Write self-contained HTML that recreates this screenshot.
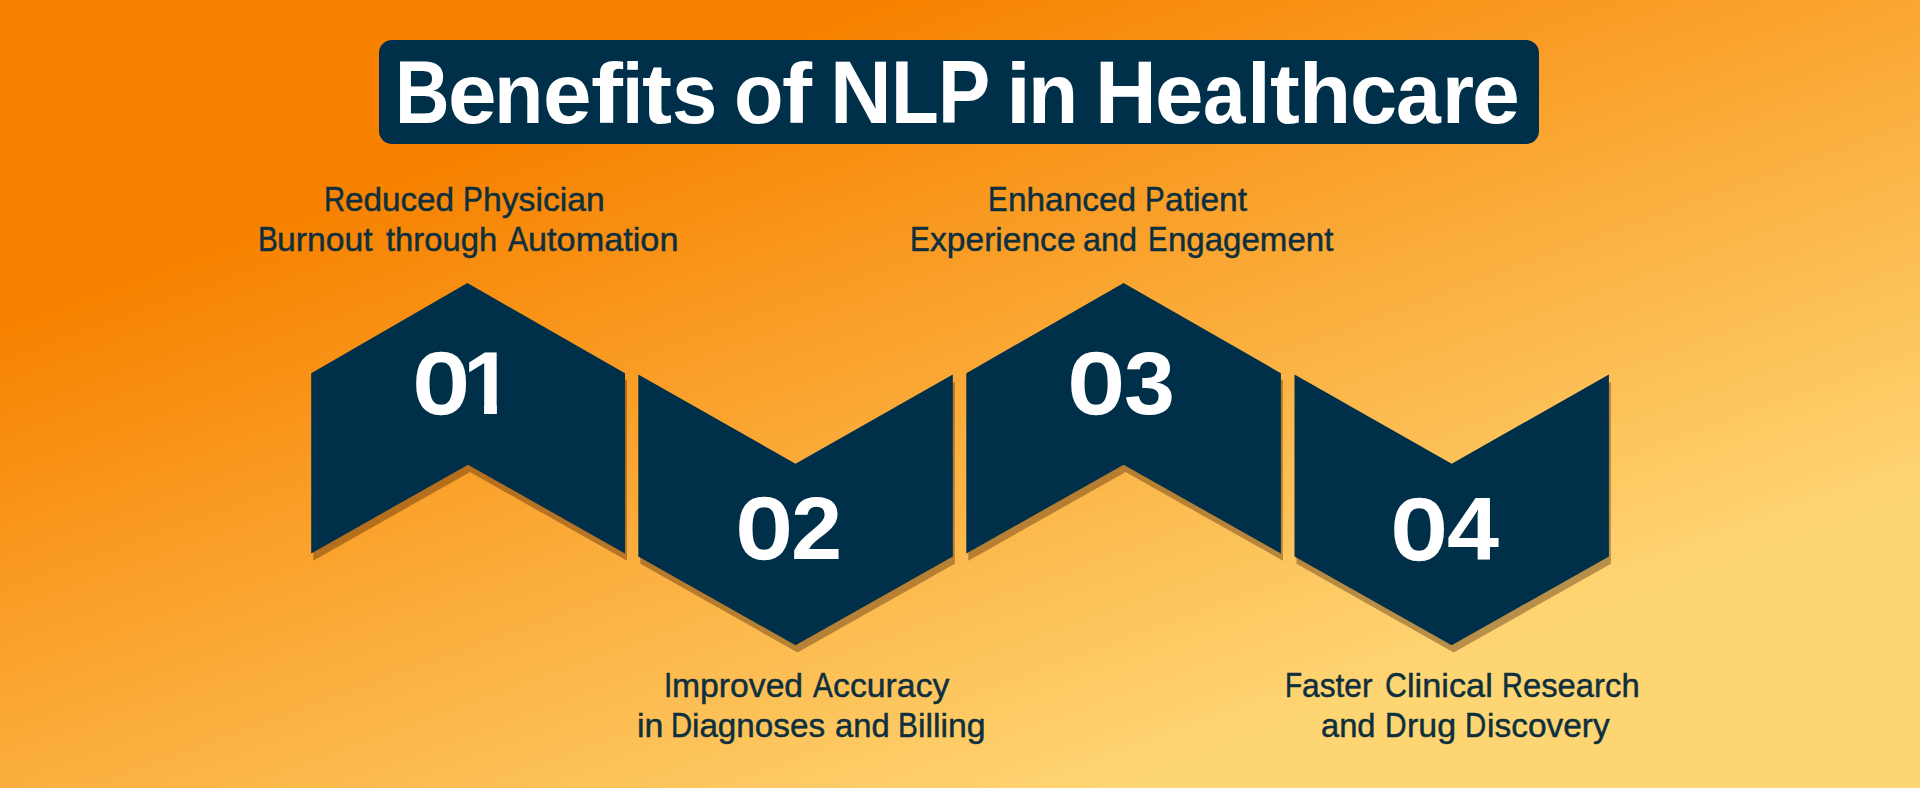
<!DOCTYPE html>
<html lang="en">
<head>
<meta charset="utf-8">
<title>Benefits of NLP in Healthcare</title>
<style>
  html, body { margin: 0; padding: 0; background: #f9a53a; }
  body { width: 1920px; height: 788px; overflow: hidden; }
  #page {
    position: relative; width: 1920px; height: 788px; overflow: hidden;
    font-family: "Liberation Sans", sans-serif;
    background: linear-gradient(160deg, #f78200 0%, #f78200 22%, #fed573 80%, #fed573 100%);
  }
  #shapes { position: absolute; left: 0; top: 0; width: 1920px; height: 788px; }
  .title-box {
    position: absolute; left: 379.2px; top: 40.2px; width: 1159.9px; height: 103.4px;
    background: #003049; border-radius: 13px;
  }
  .w { position: absolute; display: block; white-space: nowrap; line-height: 1; transform-origin: 0 0; }
  .title, .label, .num { margin: 0; padding: 0; font-size: 0; line-height: 0; }
  .tw { display: inline; }
  .t { font-weight: bold; font-size: 89.0px; color: #ffffff; }
  .l { font-size: 35.5px; color: #0e2f3d; -webkit-text-stroke: 0.5px #0e2f3d; }
  .n { font-weight: bold; font-size: 88.7px; color: #ffffff; }
  .z { font-weight: normal; font-size: 83.27px; -webkit-text-stroke: 4.34px #ffffff; }
</style>
</head>
<body>
<div id="page">
<svg id="shapes" viewBox="0 0 1920 788" width="1920" height="788">
  <g fill="rgba(50,15,0,0.34)" transform="translate(2,7.3)">
    <polygon points="311.2,373.2 467.4,283.1 625,373.2 625,553.4 468,464.8 311.2,553.4"/>
    <polygon points="638.3,374.4 795.5,463.7 952.8,374.4 952.8,556.5 795.5,645.2 638.3,556.5"/>
    <polygon points="966.3,373.2 1123.6,283.1 1280.9,373.2 1280.9,553.4 1123.6,464.8 966.3,553.4"/>
    <polygon points="1294.5,374.4 1451.7,463.7 1608.9,374.4 1608.9,556.5 1451.7,645.2 1294.5,556.5"/>
  </g>
  <g fill="#003049">
    <polygon points="311.2,373.2 467.4,283.1 625,373.2 625,553.4 468,464.8 311.2,553.4"/>
    <polygon points="638.3,374.4 795.5,463.7 952.8,374.4 952.8,556.5 795.5,645.2 638.3,556.5"/>
    <polygon points="966.3,373.2 1123.6,283.1 1280.9,373.2 1280.9,553.4 1123.6,464.8 966.3,553.4"/>
    <polygon points="1294.5,374.4 1451.7,463.7 1608.9,374.4 1608.9,556.5 1451.7,645.2 1294.5,556.5"/>
  </g>
</svg>

<div class="title-box"></div>
<h1 class="title"><span class="tw"><span class="w t" style="left:395.16px;top:48.00px;transform:scaleX(0.8482);">B</span><span class="w t" style="left:448.31px;top:48.00px;transform-origin:0 75px;transform:scale(0.9807,0.95);">e</span><span class="w t" style="left:494.20px;top:48.00px;transform-origin:0 75px;transform:scale(0.9091,0.95);">n</span><span class="w t" style="left:542.66px;top:48.00px;transform-origin:0 75px;transform:scale(0.9807,0.95);">e</span><span class="w t" style="left:591.42px;top:48.00px;transform-origin:0 75px;transform:scale(1.0776,0.95);">f</span><span class="w t" style="left:621.73px;top:48.00px;transform-origin:0 75px;transform:scale(0.8615,0.95);">i</span><span class="w t" style="left:642.49px;top:48.00px;transform-origin:0 75px;transform:scale(1.0143,0.95);">t</span><span class="w t" style="left:672.25px;top:48.00px;transform-origin:0 75px;transform:scale(0.9163,0.95);">s</span></span> <span class="tw"><span class="w t" style="left:733.52px;top:48.00px;transform-origin:0 75px;transform:scale(0.9115,0.95);">o</span><span class="w t" style="left:782.09px;top:48.00px;transform-origin:0 75px;transform:scale(1.0138,0.95);">f</span></span> <span class="tw"><span class="w t" style="left:830.19px;top:48.00px;transform:scaleX(0.9611);">N</span><span class="w t" style="left:891.21px;top:48.00px;transform:scaleX(0.8787);">L</span><span class="w t" style="left:937.85px;top:48.00px;transform:scaleX(0.8798);">P</span></span> <span class="tw"><span class="w t" style="left:1006.45px;top:48.00px;transform-origin:0 75px;transform:scale(1.0077,0.95);">i</span><span class="w t" style="left:1028.48px;top:48.00px;transform-origin:0 75px;transform:scale(0.9239,0.95);">n</span></span> <span class="tw"><span class="w t" style="left:1095.19px;top:48.00px;transform:scaleX(0.9611);">H</span><span class="w t" style="left:1155.16px;top:48.00px;transform-origin:0 75px;transform:scale(0.9807,0.95);">e</span><span class="w t" style="left:1203.29px;top:48.00px;transform-origin:0 75px;transform:scale(0.8571,0.95);">a</span><span class="w t" style="left:1247.33px;top:48.00px;transform-origin:0 75px;transform:scale(0.9615,0.95);">l</span><span class="w t" style="left:1269.59px;top:48.00px;transform-origin:0 75px;transform:scale(1.0054,0.95);">t</span><span class="w t" style="left:1299.24px;top:48.00px;transform-origin:0 75px;transform:scale(0.9593,0.95);">h</span><span class="w t" style="left:1349.64px;top:48.00px;transform-origin:0 75px;transform:scale(0.9523,0.95);">c</span><span class="w t" style="left:1396.29px;top:48.00px;transform-origin:0 75px;transform:scale(0.9061,0.95);">a</span><span class="w t" style="left:1442.27px;top:48.00px;transform-origin:0 75px;transform:scale(0.9259,0.95);">r</span><span class="w t" style="left:1472.10px;top:48.00px;transform-origin:0 75px;transform:scale(0.9659,0.95);">e</span></span></h1>

<p class="label"><span class="lw"><span class="w l" style="left:324.15px;top:182.00px;transform-origin:0 29px;transform:scale(0.8240,1);">R</span><span class="w l" style="left:345.28px;top:182.00px;transform-origin:0 29px;transform:scale(0.9364,0.945);">educed</span></span> <span class="lw"><span class="w l" style="left:463.03px;top:182.00px;transform-origin:0 29px;transform:scale(0.8360,1);">P</span><span class="w l" style="left:482.82px;top:182.00px;transform-origin:0 29px;transform:scale(0.9499,0.945);">hysician</span></span>
  <span class="lw"><span class="w l" style="left:257.53px;top:222.00px;transform-origin:0 29px;transform:scale(0.8354,1);">B</span><span class="w l" style="left:277.31px;top:222.00px;transform-origin:0 29px;transform:scale(0.9493,0.945);">urnout</span></span> <span class="lw"><span class="w l" style="left:385.70px;top:222.00px;transform-origin:0 29px;transform:scale(0.9228,0.945);">through</span></span> <span class="lw"><span class="w l" style="left:508.30px;top:222.00px;transform-origin:0 29px;transform:scale(0.8493,1);">A</span><span class="w l" style="left:528.41px;top:222.00px;transform-origin:0 29px;transform:scale(0.9652,0.945);">utomation</span></span></p>
<p class="label"><span class="lw"><span class="w l" style="left:988.45px;top:182.00px;transform-origin:0 29px;transform:scale(0.8270,1);">E</span><span class="w l" style="left:1008.03px;top:182.00px;transform-origin:0 29px;transform:scale(0.9398,0.945);">nhanced</span></span> <span class="lw"><span class="w l" style="left:1145.14px;top:182.00px;transform-origin:0 29px;transform:scale(0.8314,1);">P</span><span class="w l" style="left:1164.82px;top:182.00px;transform-origin:0 29px;transform:scale(0.9448,0.945);">atient</span></span>
  <span class="lw"><span class="w l" style="left:909.94px;top:222.00px;transform-origin:0 29px;transform:scale(0.8322,1);">E</span><span class="w l" style="left:929.64px;top:222.00px;transform-origin:0 29px;transform:scale(0.9457,0.945);">xperience</span></span> <span class="lw"><span class="w l" style="left:1083.09px;top:222.00px;transform-origin:0 29px;transform:scale(0.9135,0.945);">and</span></span> <span class="lw"><span class="w l" style="left:1148.36px;top:222.00px;transform-origin:0 29px;transform:scale(0.8190,1);">E</span><span class="w l" style="left:1167.75px;top:222.00px;transform-origin:0 29px;transform:scale(0.9306,0.945);">ngagement</span></span></p>
<p class="label"><span class="lw"><span class="w l" style="left:663.99px;top:668.00px;transform-origin:0 29px;transform:scale(0.8354,1);">I</span><span class="w l" style="left:672.23px;top:668.00px;transform-origin:0 29px;transform:scale(0.9493,0.945);">mproved</span></span> <span class="lw"><span class="w l" style="left:813.00px;top:668.00px;transform-origin:0 29px;transform:scale(0.8377,1);">A</span><span class="w l" style="left:832.83px;top:668.00px;transform-origin:0 29px;transform:scale(0.9519,0.945);">ccuracy</span></span>
  <span class="lw"><span class="w l" style="left:636.89px;top:708.00px;transform-origin:0 29px;transform:scale(0.9545,0.945);">in</span></span> <span class="lw"><span class="w l" style="left:671.35px;top:708.00px;transform-origin:0 29px;transform:scale(0.8238,1);">D</span><span class="w l" style="left:692.47px;top:708.00px;transform-origin:0 29px;transform:scale(0.9361,0.945);">iagnoses</span></span> <span class="lw"><span class="w l" style="left:835.18px;top:708.00px;transform-origin:0 29px;transform:scale(0.9223,0.945);">and</span></span> <span class="lw"><span class="w l" style="left:898.32px;top:708.00px;transform-origin:0 29px;transform:scale(0.8385,1);">B</span><span class="w l" style="left:918.18px;top:708.00px;transform-origin:0 29px;transform:scale(0.9528,0.945);">illing</span></span></p>
<p class="label"><span class="lw"><span class="w l" style="left:1285.23px;top:668.00px;transform-origin:0 29px;transform:scale(0.7858,1);">F</span><span class="w l" style="left:1302.27px;top:668.00px;transform-origin:0 29px;transform:scale(0.8929,0.945);">aster</span></span> <span class="lw"><span class="w l" style="left:1384.95px;top:668.00px;transform-origin:0 29px;transform:scale(0.8502,1);">C</span><span class="w l" style="left:1406.75px;top:668.00px;transform-origin:0 29px;transform:scale(0.9661,0.945);">linical</span></span> <span class="lw"><span class="w l" style="left:1501.88px;top:668.00px;transform-origin:0 29px;transform:scale(0.8125,1);">R</span><span class="w l" style="left:1522.70px;top:668.00px;transform-origin:0 29px;transform:scale(0.9233,0.945);">esearch</span></span>
  <span class="lw"><span class="w l" style="left:1320.98px;top:708.00px;transform-origin:0 29px;transform:scale(0.9206,0.945);">and</span></span> <span class="lw"><span class="w l" style="left:1385.12px;top:708.00px;transform-origin:0 29px;transform:scale(0.8417,1);">D</span><span class="w l" style="left:1406.69px;top:708.00px;transform-origin:0 29px;transform:scale(0.9564,0.945);">rug</span></span> <span class="lw"><span class="w l" style="left:1465.24px;top:708.00px;transform-origin:0 29px;transform:scale(0.8291,1);">D</span><span class="w l" style="left:1486.50px;top:708.00px;transform-origin:0 29px;transform:scale(0.9422,0.945);">iscovery</span></span></p>

<div class="num"><span class="w n z" style="left:415.08px;top:342.00px;transform:scaleX(1.1281);">0</span><span class="w n" style="left:462.78px;top:340.00px;transform:scaleX(1.0258);clip-path:polygon(0 0,33.02px 0,33.02px 88.70px,20.55px 88.70px,20.55px 63.45px,0 63.45px);">1</span></div>
<div class="num"><span class="w n z" style="left:737.98px;top:487.00px;transform:scaleX(1.1258);">0</span><span class="w n" style="left:790.69px;top:485.00px;transform:scaleX(1.0372);">2</span></div>
<div class="num"><span class="w n z" style="left:1070.08px;top:342.00px;transform:scaleX(1.1281);">0</span><span class="w n" style="left:1124.14px;top:340.00px;transform:scaleX(1.0311);">3</span></div>
<div class="num"><span class="w n z" style="left:1392.98px;top:488.00px;transform:scaleX(1.1258);">0</span><span class="w n" style="left:1447.15px;top:486.00px;transform:scaleX(1.0542);">4</span></div>
</div>
</body>
</html>
